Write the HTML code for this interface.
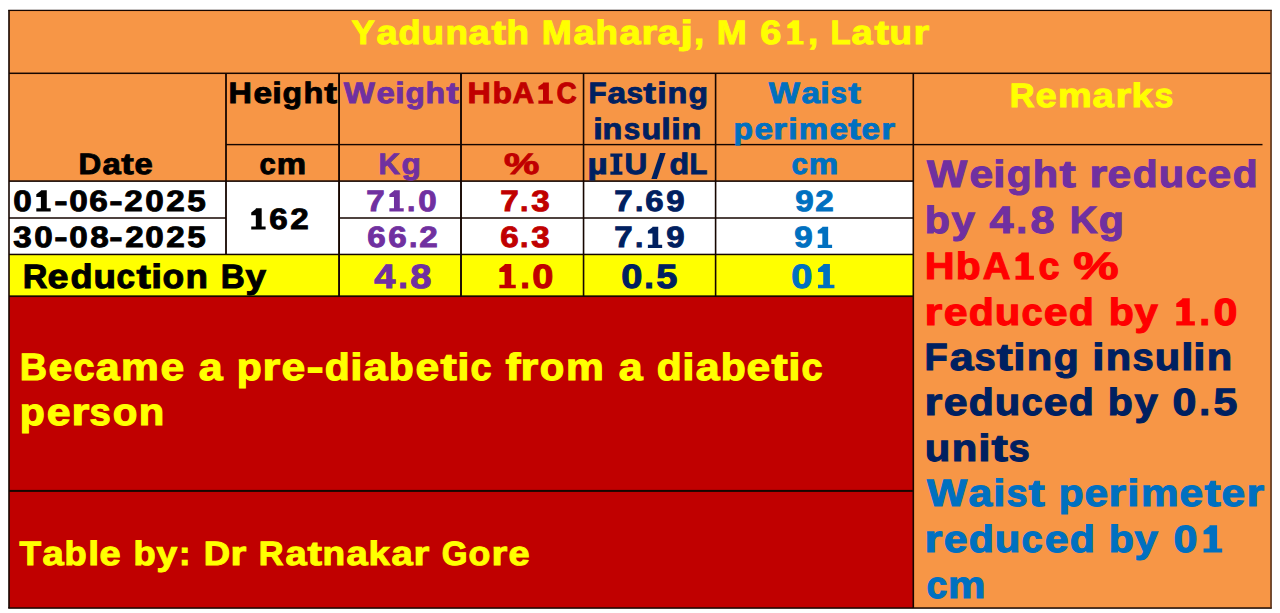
<!DOCTYPE html>
<html><head><meta charset="utf-8"><title>Table</title>
<style>
html,body{margin:0;padding:0;background:#fff;}
body{width:1280px;height:613px;position:relative;overflow:hidden;font-family:"Liberation Sans",sans-serif;font-weight:bold;}
.t{position:absolute;white-space:pre;line-height:1;text-rendering:geometricPrecision;}
.t b{display:inline-block;transform-origin:0 0;font-weight:bold;}
.t b.x{color:transparent;-webkit-text-stroke-color:transparent;}
</style></head><body>
<svg width="1280" height="613" viewBox="0 0 1280 613" style="position:absolute;left:0;top:0">
<rect x="9.00" y="10.40" width="1262.05" height="597.65" fill="#F79646"/>
<rect x="9.00" y="181.10" width="904.30" height="73.35" fill="#FFFFFF"/>
<rect x="9.00" y="254.45" width="904.30" height="41.75" fill="#FFFF00"/>
<rect x="9.00" y="296.20" width="904.30" height="311.85" fill="#C00000"/>
<rect x="9.00" y="72.55" width="1262.05" height="1.50" fill="#160600"/>
<rect x="226.00" y="143.90" width="1036.50" height="1.40" fill="#160600"/>
<rect x="9.00" y="180.30" width="904.30" height="1.60" fill="#160600"/>
<rect x="9.00" y="217.25" width="217.00" height="1.50" fill="#160600"/>
<rect x="339.05" y="217.25" width="574.25" height="1.50" fill="#160600"/>
<rect x="9.00" y="253.70" width="904.30" height="1.50" fill="#160600"/>
<rect x="9.00" y="295.35" width="904.30" height="1.70" fill="#160600"/>
<rect x="9.00" y="489.90" width="904.30" height="2.00" fill="#160600"/>
<rect x="225.10" y="73.30" width="1.80" height="181.15" fill="#160600"/>
<rect x="338.10" y="73.30" width="1.90" height="222.90" fill="#160600"/>
<rect x="460.05" y="73.30" width="1.90" height="222.90" fill="#160600"/>
<rect x="582.75" y="73.30" width="1.60" height="222.90" fill="#160600"/>
<rect x="714.80" y="73.30" width="1.60" height="222.90" fill="#160600"/>
<rect x="912.50" y="73.30" width="1.60" height="534.75" fill="#160600"/>
<rect x="8.20" y="9.75" width="1263.65" height="1.30" fill="#160600"/>
<rect x="8.20" y="607.30" width="1263.65" height="1.50" fill="#160600"/>
<rect x="8.20" y="10.40" width="1.60" height="597.65" fill="#160600"/>
<rect x="1270.25" y="10.40" width="1.60" height="597.65" fill="#5a3018"/>
<polygon points="787.27,44.60 803.67,44.60 803.67,40.99 799.17,40.99 799.17,20.32 792.51,20.32 792.51,21.12 787.27,25.06 787.27,28.23 792.51,28.23 792.51,40.99 787.27,40.99" fill="#FFFF00"/>
<polygon points="538.40,103.70 552.82,103.70 552.82,100.55 548.87,100.55 548.87,82.47 543.00,82.47 543.00,83.17 538.40,86.62 538.40,89.39 543.00,89.39 543.00,100.55 538.40,100.55" fill="#C00000"/>
<polygon points="610.35,174.80 622.44,174.80 622.44,171.53 619.20,171.53 619.20,156.84 622.44,156.84 622.44,153.57 610.35,153.57 610.35,156.84 613.60,156.84 613.60,171.53 610.35,171.53" fill="#002060"/>
<polygon points="651.35,179.09 656.95,179.09 665.65,153.10 660.05,153.10" fill="#002060"/>
<polygon points="36.31,211.40 50.72,211.40 50.72,208.25 46.76,208.25 46.76,190.17 40.90,190.17 40.90,190.87 36.31,194.32 36.31,197.09 40.90,197.09 40.90,208.25 36.31,208.25" fill="#000000"/>
<polygon points="251.24,229.60 265.61,229.60 265.61,226.45 261.67,226.45 261.67,208.37 255.83,208.37 255.83,209.07 251.24,212.52 251.24,215.29 255.83,215.29 255.83,226.45 251.24,226.45" fill="#000000"/>
<polygon points="389.40,211.40 403.72,211.40 403.72,208.25 399.79,208.25 399.79,190.17 393.97,190.17 393.97,190.87 389.40,194.32 389.40,197.09 393.97,197.09 393.97,208.25 389.40,208.25" fill="#7030A0"/>
<polygon points="647.89,247.90 662.17,247.90 662.17,244.75 658.25,244.75 658.25,226.67 652.45,226.67 652.45,227.37 647.89,230.82 647.89,233.59 652.45,233.59 652.45,244.75 647.89,244.75" fill="#002060"/>
<polygon points="817.73,247.90 832.10,247.90 832.10,244.75 828.16,244.75 828.16,226.67 822.32,226.67 822.32,227.37 817.73,230.82 817.73,233.59 822.32,233.59 822.32,244.75 817.73,244.75" fill="#0070C0"/>
<polygon points="499.34,288.30 515.78,288.30 515.78,284.69 511.27,284.69 511.27,264.02 504.59,264.02 504.59,264.82 499.34,268.76 499.34,271.93 504.59,271.93 504.59,284.69 499.34,284.69" fill="#C00000"/>
<polygon points="818.00,288.30 834.43,288.30 834.43,284.69 829.92,284.69 829.92,264.02 823.24,264.02 823.24,264.82 818.00,268.76 818.00,271.93 823.24,271.93 823.24,284.69 818.00,284.69" fill="#0070C0"/>
<polygon points="1015.47,279.70 1033.94,279.70 1033.94,275.65 1028.87,275.65 1028.87,252.44 1021.36,252.44 1021.36,253.34 1015.47,257.76 1015.47,261.32 1021.36,261.32 1021.36,275.65 1015.47,275.65" fill="#FF0000"/>
<polygon points="1176.27,325.40 1194.85,325.40 1194.85,321.35 1189.75,321.35 1189.75,298.14 1182.20,298.14 1182.20,299.04 1176.27,303.46 1176.27,307.02 1182.20,307.02 1182.20,321.35 1176.27,321.35" fill="#FF0000"/>
<polygon points="1203.59,552.60 1222.20,552.60 1222.20,548.55 1217.09,548.55 1217.09,525.34 1209.53,525.34 1209.53,526.24 1203.59,530.66 1203.59,534.23 1209.53,534.23 1209.53,548.55 1203.59,548.55" fill="#0070C0"/>
</svg>
<div class="t" style="left:350.96px;top:17px;font-size:33.84px;color:#FFFF00;-webkit-text-stroke:1.0px #FFFF00"><b style="width:24.55px;transform:translateX(0.61px) scaleX(1.033)">Y</b><b style="width:22.25px;transform:translateX(0.56px) scaleX(1.123)">a</b><b style="width:23.29px;transform:translateX(0.58px) scaleX(1.070)">d</b><b style="width:23.72px;transform:translateX(0.59px) scaleX(1.090)">u</b><b style="width:23.72px;transform:translateX(0.59px) scaleX(1.090)">n</b><b style="width:22.25px;transform:translateX(0.56px) scaleX(1.123)">a</b><b style="width:15.19px;transform:translateX(0.38px) scaleX(1.281)">t</b><b style="width:23.72px;transform:translateX(0.59px) scaleX(1.090)">h</b><b style="width:11.39px"> </b><b style="width:31.58px;transform:translateX(0.79px) scaleX(1.064)">M</b><b style="width:22.25px;transform:translateX(0.56px) scaleX(1.123)">a</b><b style="width:23.72px;transform:translateX(0.59px) scaleX(1.090)">h</b><b style="width:22.25px;transform:translateX(0.56px) scaleX(1.123)">a</b><b style="width:16.56px;transform:translateX(0.41px) scaleX(1.194)">r</b><b style="width:22.25px;transform:translateX(0.56px) scaleX(1.123)">a</b><b style="width:13.43px;transform:translateX(0.34px) scaleX(1.357)">j</b><b style="width:12.03px;transform:translateX(0.90px) scaleX(1.087)">,</b><b style="width:11.39px"> </b><b style="width:31.58px;transform:translateX(0.79px) scaleX(1.064)">M</b><b style="width:11.39px"> </b><b style="width:23.69px;transform:translateX(1.30px) scaleX(1.120)">6</b><b class="x" style="width:23.69px">1</b><b style="width:12.03px;transform:translateX(0.90px) scaleX(1.087)">,</b><b style="width:11.39px"> </b><b style="width:21.22px;transform:translateX(0.53px) scaleX(0.975)">L</b><b style="width:22.25px;transform:translateX(0.56px) scaleX(1.123)">a</b><b style="width:15.19px;transform:translateX(0.38px) scaleX(1.281)">t</b><b style="width:23.72px;transform:translateX(0.59px) scaleX(1.090)">u</b><b style="width:16.56px;transform:translateX(0.41px) scaleX(1.194)">r</b></div>
<div class="t" style="left:228.35px;top:79px;font-size:29.55px;color:#000000;-webkit-text-stroke:0.9px #000000"><b style="width:24.60px;transform:translateX(0.61px) scaleX(1.095)">H</b><b style="width:19.51px;transform:translateX(0.49px) scaleX(1.128)">e</b><b style="width:10.05px;transform:translateX(0.25px) scaleX(1.163)">i</b><b style="width:20.54px;transform:translateX(0.51px) scaleX(1.081)">g</b><b style="width:20.92px;transform:translateX(0.52px) scaleX(1.101)">h</b><b style="width:13.40px;transform:translateX(0.34px) scaleX(1.294)">t</b></div>
<div class="t" style="left:342.96px;top:79px;font-size:29.55px;color:#7030A0;-webkit-text-stroke:0.9px #7030A0"><b style="width:32.68px;transform:translateX(0.82px) scaleX(1.113)">W</b><b style="width:19.24px;transform:translateX(0.48px) scaleX(1.112)">e</b><b style="width:9.91px;transform:translateX(0.25px) scaleX(1.146)">i</b><b style="width:20.25px;transform:translateX(0.51px) scaleX(1.066)">g</b><b style="width:20.63px;transform:translateX(0.52px) scaleX(1.086)">h</b><b style="width:13.21px;transform:translateX(0.33px) scaleX(1.275)">t</b></div>
<div class="t" style="left:467.01px;top:79px;font-size:29.55px;color:#C00000;-webkit-text-stroke:0.9px #C00000"><b style="width:24.54px;transform:translateX(0.61px) scaleX(1.092)">H</b><b style="width:20.49px;transform:translateX(0.51px) scaleX(1.079)">b</b><b style="width:22.75px;transform:translateX(0.57px) scaleX(1.013)">A</b><b class="x" style="width:20.85px">1</b><b style="width:21.23px;transform:translateX(0.53px) scaleX(0.945)">C</b></div>
<div class="t" style="left:587.52px;top:79px;font-size:29.55px;color:#002060;-webkit-text-stroke:0.9px #002060"><b style="width:19.04px;transform:translateX(0.48px) scaleX(1.002)">F</b><b style="width:19.56px;transform:translateX(0.49px) scaleX(1.131)">a</b><b style="width:17.37px;transform:translateX(0.43px) scaleX(1.004)">s</b><b style="width:13.36px;transform:translateX(0.33px) scaleX(1.289)">t</b><b style="width:10.02px;transform:translateX(0.25px) scaleX(1.159)">i</b><b style="width:20.85px;transform:translateX(0.52px) scaleX(1.098)">n</b><b style="width:20.47px;transform:translateX(0.51px) scaleX(1.077)">g</b></div>
<div class="t" style="left:592.51px;top:115px;font-size:29.55px;color:#002060;-webkit-text-stroke:0.9px #002060"><b style="width:9.98px;transform:translateX(0.25px) scaleX(1.155)">i</b><b style="width:20.78px;transform:translateX(0.52px) scaleX(1.094)">n</b><b style="width:17.31px;transform:translateX(0.43px) scaleX(1.000)">s</b><b style="width:20.78px;transform:translateX(0.52px) scaleX(1.094)">u</b><b style="width:9.98px;transform:translateX(0.25px) scaleX(1.155)">l</b><b style="width:9.98px;transform:translateX(0.25px) scaleX(1.155)">i</b><b style="width:20.78px;transform:translateX(0.52px) scaleX(1.094)">n</b></div>
<div class="t" style="left:768.26px;top:79px;font-size:29.55px;color:#0070C0;-webkit-text-stroke:0.9px #0070C0"><b style="width:32.78px;transform:translateX(0.82px) scaleX(1.117)">W</b><b style="width:19.41px;transform:translateX(0.49px) scaleX(1.122)">a</b><b style="width:9.94px;transform:translateX(0.25px) scaleX(1.150)">i</b><b style="width:17.23px;transform:translateX(0.43px) scaleX(0.996)">s</b><b style="width:13.25px;transform:translateX(0.33px) scaleX(1.279)">t</b></div>
<div class="t" style="left:733.44px;top:115px;font-size:29.55px;color:#0070C0;-webkit-text-stroke:0.9px #0070C0"><b style="width:20.44px;transform:translateX(0.51px) scaleX(1.076)">p</b><b style="width:19.41px;transform:translateX(0.49px) scaleX(1.122)">e</b><b style="width:14.53px;transform:translateX(0.36px) scaleX(1.200)">r</b><b style="width:10.00px;transform:translateX(0.25px) scaleX(1.157)">i</b><b style="width:30.93px;transform:translateX(0.77px) scaleX(1.118)">m</b><b style="width:19.41px;transform:translateX(0.49px) scaleX(1.122)">e</b><b style="width:13.33px;transform:translateX(0.33px) scaleX(1.287)">t</b><b style="width:19.41px;transform:translateX(0.49px) scaleX(1.122)">e</b><b style="width:14.53px;transform:translateX(0.36px) scaleX(1.200)">r</b></div>
<div class="t" style="left:1008.57px;top:80px;font-size:33.84px;color:#FFFF00;-webkit-text-stroke:1.0px #FFFF00"><b style="width:26.20px;transform:translateX(0.66px) scaleX(1.019)">R</b><b style="width:22.25px;transform:translateX(0.56px) scaleX(1.123)">e</b><b style="width:35.45px;transform:translateX(0.89px) scaleX(1.119)">m</b><b style="width:22.38px;transform:translateX(0.56px) scaleX(1.130)">a</b><b style="width:16.65px;transform:translateX(0.42px) scaleX(1.201)">r</b><b style="width:22.48px;transform:translateX(0.56px) scaleX(1.135)">k</b><b style="width:19.87px;transform:translateX(0.50px) scaleX(1.003)">s</b></div>
<div class="t" style="left:78.17px;top:150px;font-size:29.55px;color:#000000;-webkit-text-stroke:0.9px #000000"><b style="width:23.93px;transform:translateX(0.60px) scaleX(1.065)">D</b><b style="width:19.26px;transform:translateX(0.48px) scaleX(1.113)">a</b><b style="width:13.15px;transform:translateX(0.33px) scaleX(1.269)">t</b><b style="width:19.14px;transform:translateX(0.48px) scaleX(1.107)">e</b></div>
<div class="t" style="left:258.65px;top:150px;font-size:29.55px;color:#000000;-webkit-text-stroke:0.9px #000000"><b style="width:17.14px;transform:translateX(0.43px) scaleX(0.991)">c</b><b style="width:30.85px;transform:translateX(0.77px) scaleX(1.115)">m</b></div>
<div class="t" style="left:378.44px;top:150px;font-size:29.55px;color:#7030A0;-webkit-text-stroke:0.9px #7030A0"><b style="width:22.41px;transform:translateX(0.56px) scaleX(0.998)">K</b><b style="width:20.32px;transform:translateX(0.51px) scaleX(1.069)">g</b></div>
<div class="t" style="left:503.49px;top:150px;font-size:29.55px;color:#C00000;-webkit-text-stroke:0.9px #C00000"><b style="width:37.14px;transform:translateX(0.93px) scaleX(1.343)">%</b></div>
<div class="t" style="left:587.11px;top:150px;font-size:29.55px;color:#002060;-webkit-text-stroke:0.9px #002060"><b style="width:21.23px;transform:translateX(0.53px) scaleX(1.185)">µ</b><b class="x" style="width:16.10px">I</b><b style="width:23.95px;transform:translateX(0.60px) scaleX(1.066)">U</b><b class="x" style="width:20.32px">/</b><b style="width:20.61px;transform:translateX(0.52px) scaleX(1.085)">d</b><b style="width:18.79px;transform:translateX(0.47px) scaleX(0.989)">L</b></div>
<div class="t" style="left:790.74px;top:150px;font-size:29.55px;color:#0070C0;-webkit-text-stroke:0.9px #0070C0"><b style="width:17.22px;transform:translateX(0.43px) scaleX(0.995)">c</b><b style="width:30.98px;transform:translateX(0.77px) scaleX(1.120)">m</b></div>
<div class="t" style="left:11.87px;top:187px;font-size:29.55px;color:#000000;-webkit-text-stroke:0.9px #000000"><b style="width:20.83px;transform:translateX(1.15px) scaleX(1.128)">0</b><b class="x" style="width:20.83px">1</b><b style="width:14.06px;transform:translateX(0.35px) scaleX(1.358)">-</b><b style="width:20.83px;transform:translateX(1.15px) scaleX(1.128)">0</b><b style="width:20.83px;transform:translateX(1.15px) scaleX(1.128)">6</b><b style="width:14.06px;transform:translateX(0.35px) scaleX(1.358)">-</b><b style="width:20.83px;transform:translateX(1.15px) scaleX(1.128)">2</b><b style="width:20.83px;transform:translateX(1.15px) scaleX(1.128)">0</b><b style="width:20.83px;transform:translateX(1.15px) scaleX(1.128)">2</b><b style="width:20.83px;transform:translateX(1.15px) scaleX(1.128)">5</b></div>
<div class="t" style="left:247.65px;top:205px;font-size:29.55px;color:#000000;-webkit-text-stroke:0.9px #000000"><b class="x" style="width:20.76px">1</b><b style="width:20.76px;transform:translateX(1.14px) scaleX(1.124)">6</b><b style="width:20.76px;transform:translateX(1.14px) scaleX(1.124)">2</b></div>
<div class="t" style="left:365.12px;top:187px;font-size:29.55px;color:#7030A0;-webkit-text-stroke:0.9px #7030A0"><b style="width:20.70px;transform:translateX(1.14px) scaleX(1.121)">7</b><b class="x" style="width:20.70px">1</b><b style="width:10.51px;transform:translateX(1.05px) scaleX(1.024)">.</b><b style="width:20.70px;transform:translateX(1.14px) scaleX(1.121)">0</b></div>
<div class="t" style="left:498.72px;top:187px;font-size:29.55px;color:#C00000;-webkit-text-stroke:0.9px #C00000"><b style="width:20.76px;transform:translateX(1.14px) scaleX(1.124)">7</b><b style="width:10.54px;transform:translateX(1.05px) scaleX(1.027)">.</b><b style="width:20.76px;transform:translateX(1.14px) scaleX(1.124)">3</b></div>
<div class="t" style="left:613.23px;top:187px;font-size:29.55px;color:#002060;-webkit-text-stroke:0.9px #002060"><b style="width:20.63px;transform:translateX(1.13px) scaleX(1.117)">7</b><b style="width:10.47px;transform:translateX(1.05px) scaleX(1.020)">.</b><b style="width:20.63px;transform:translateX(1.13px) scaleX(1.117)">6</b><b style="width:20.63px;transform:translateX(1.13px) scaleX(1.117)">9</b></div>
<div class="t" style="left:793.59px;top:187px;font-size:29.55px;color:#0070C0;-webkit-text-stroke:0.9px #0070C0"><b style="width:20.76px;transform:translateX(1.14px) scaleX(1.124)">9</b><b style="width:20.76px;transform:translateX(1.14px) scaleX(1.124)">2</b></div>
<div class="t" style="left:12.41px;top:223px;font-size:29.55px;color:#000000;-webkit-text-stroke:0.9px #000000"><b style="width:20.77px;transform:translateX(1.14px) scaleX(1.125)">3</b><b style="width:20.77px;transform:translateX(1.14px) scaleX(1.125)">0</b><b style="width:14.02px;transform:translateX(0.35px) scaleX(1.354)">-</b><b style="width:20.77px;transform:translateX(1.14px) scaleX(1.125)">0</b><b style="width:20.77px;transform:translateX(1.14px) scaleX(1.125)">8</b><b style="width:14.02px;transform:translateX(0.35px) scaleX(1.354)">-</b><b style="width:20.77px;transform:translateX(1.14px) scaleX(1.125)">2</b><b style="width:20.77px;transform:translateX(1.14px) scaleX(1.125)">0</b><b style="width:20.77px;transform:translateX(1.14px) scaleX(1.125)">2</b><b style="width:20.77px;transform:translateX(1.14px) scaleX(1.125)">5</b></div>
<div class="t" style="left:366.21px;top:223px;font-size:29.55px;color:#7030A0;-webkit-text-stroke:0.9px #7030A0"><b style="width:20.76px;transform:translateX(1.14px) scaleX(1.124)">6</b><b style="width:20.76px;transform:translateX(1.14px) scaleX(1.124)">6</b><b style="width:10.54px;transform:translateX(1.05px) scaleX(1.027)">.</b><b style="width:20.76px;transform:translateX(1.14px) scaleX(1.124)">2</b></div>
<div class="t" style="left:498.57px;top:223px;font-size:29.55px;color:#C00000;-webkit-text-stroke:0.9px #C00000"><b style="width:20.76px;transform:translateX(1.14px) scaleX(1.124)">6</b><b style="width:10.54px;transform:translateX(1.05px) scaleX(1.027)">.</b><b style="width:20.76px;transform:translateX(1.14px) scaleX(1.124)">3</b></div>
<div class="t" style="left:613.23px;top:223px;font-size:29.55px;color:#002060;-webkit-text-stroke:0.9px #002060"><b style="width:20.63px;transform:translateX(1.13px) scaleX(1.117)">7</b><b style="width:10.47px;transform:translateX(1.05px) scaleX(1.020)">.</b><b class="x" style="width:20.63px">1</b><b style="width:20.63px;transform:translateX(1.13px) scaleX(1.117)">9</b></div>
<div class="t" style="left:793.38px;top:223px;font-size:29.55px;color:#0070C0;-webkit-text-stroke:0.9px #0070C0"><b style="width:20.76px;transform:translateX(1.14px) scaleX(1.124)">9</b><b class="x" style="width:20.76px">1</b></div>
<div class="t" style="left:21.54px;top:261px;font-size:33.84px;color:#000000;-webkit-text-stroke:1.0px #000000"><b style="width:25.96px;transform:translateX(0.65px) scaleX(1.009)">R</b><b style="width:22.04px;transform:translateX(0.55px) scaleX(1.113)">e</b><b style="width:23.20px;transform:translateX(0.58px) scaleX(1.066)">d</b><b style="width:23.63px;transform:translateX(0.59px) scaleX(1.086)">u</b><b style="width:19.52px;transform:translateX(0.49px) scaleX(0.985)">c</b><b style="width:15.14px;transform:translateX(0.38px) scaleX(1.276)">t</b><b style="width:11.35px;transform:translateX(0.28px) scaleX(1.147)">i</b><b style="width:22.80px;transform:translateX(0.57px) scaleX(1.048)">o</b><b style="width:23.63px;transform:translateX(0.59px) scaleX(1.086)">n</b><b style="width:11.35px"> </b><b style="width:25.29px;transform:translateX(0.63px) scaleX(0.983)">B</b><b style="width:21.61px;transform:translateX(0.54px) scaleX(1.091)">y</b></div>
<div class="t" style="left:373.19px;top:261px;font-size:33.84px;color:#7030A0;-webkit-text-stroke:1.0px #7030A0"><b style="width:23.75px;transform:translateX(1.31px) scaleX(1.123)">4</b><b style="width:12.06px;transform:translateX(1.21px) scaleX(1.026)">.</b><b style="width:23.75px;transform:translateX(1.31px) scaleX(1.123)">8</b></div>
<div class="t" style="left:495.24px;top:261px;font-size:33.84px;color:#C00000;-webkit-text-stroke:1.0px #C00000"><b class="x" style="width:23.75px">1</b><b style="width:12.06px;transform:translateX(1.21px) scaleX(1.026)">.</b><b style="width:23.75px;transform:translateX(1.31px) scaleX(1.123)">0</b></div>
<div class="t" style="left:619.50px;top:261px;font-size:33.84px;color:#002060;-webkit-text-stroke:1.0px #002060"><b style="width:23.75px;transform:translateX(1.31px) scaleX(1.123)">0</b><b style="width:12.06px;transform:translateX(1.21px) scaleX(1.026)">.</b><b style="width:23.75px;transform:translateX(1.31px) scaleX(1.123)">5</b></div>
<div class="t" style="left:790.14px;top:261px;font-size:33.84px;color:#0070C0;-webkit-text-stroke:1.0px #0070C0"><b style="width:23.75px;transform:translateX(1.31px) scaleX(1.123)">0</b><b class="x" style="width:23.75px">1</b></div>
<div class="t" style="left:19.35px;top:349px;font-size:38.03px;color:#FFFF00;-webkit-text-stroke:1.1px #FFFF00"><b style="width:28.68px;transform:translateX(0.72px) scaleX(0.992)">B</b><b style="width:24.99px;transform:translateX(0.62px) scaleX(1.122)">e</b><b style="width:22.13px;transform:translateX(0.55px) scaleX(0.994)">c</b><b style="width:25.14px;transform:translateX(0.63px) scaleX(1.129)">a</b><b style="width:39.82px;transform:translateX(1.00px) scaleX(1.119)">m</b><b style="width:24.99px;transform:translateX(0.62px) scaleX(1.122)">e</b><b style="width:12.87px"> </b><b style="width:25.14px;transform:translateX(0.63px) scaleX(1.129)">a</b><b style="width:12.87px"> </b><b style="width:26.31px;transform:translateX(0.66px) scaleX(1.076)">p</b><b style="width:18.71px;transform:translateX(0.47px) scaleX(1.201)">r</b><b style="width:24.99px;transform:translateX(0.62px) scaleX(1.122)">e</b><b style="width:18.07px;transform:translateX(0.45px) scaleX(1.355)">-</b><b style="width:26.31px;transform:translateX(0.66px) scaleX(1.076)">d</b><b style="width:12.87px;transform:translateX(0.32px) scaleX(1.157)">i</b><b style="width:25.14px;transform:translateX(0.63px) scaleX(1.129)">a</b><b style="width:26.31px;transform:translateX(0.66px) scaleX(1.076)">b</b><b style="width:24.99px;transform:translateX(0.62px) scaleX(1.122)">e</b><b style="width:17.16px;transform:translateX(0.43px) scaleX(1.287)">t</b><b style="width:12.87px;transform:translateX(0.32px) scaleX(1.157)">i</b><b style="width:22.13px;transform:translateX(0.55px) scaleX(0.994)">c</b><b style="width:12.87px"> </b><b style="width:15.88px;transform:translateX(0.40px) scaleX(1.191)">f</b><b style="width:18.71px;transform:translateX(0.47px) scaleX(1.201)">r</b><b style="width:25.86px;transform:translateX(0.65px) scaleX(1.057)">o</b><b style="width:39.82px;transform:translateX(1.00px) scaleX(1.119)">m</b><b style="width:12.87px"> </b><b style="width:25.14px;transform:translateX(0.63px) scaleX(1.129)">a</b><b style="width:12.87px"> </b><b style="width:26.31px;transform:translateX(0.66px) scaleX(1.076)">d</b><b style="width:12.87px;transform:translateX(0.32px) scaleX(1.157)">i</b><b style="width:25.14px;transform:translateX(0.63px) scaleX(1.129)">a</b><b style="width:26.31px;transform:translateX(0.66px) scaleX(1.076)">b</b><b style="width:24.99px;transform:translateX(0.62px) scaleX(1.122)">e</b><b style="width:17.16px;transform:translateX(0.43px) scaleX(1.287)">t</b><b style="width:12.87px;transform:translateX(0.32px) scaleX(1.157)">i</b><b style="width:22.13px;transform:translateX(0.55px) scaleX(0.994)">c</b></div>
<div class="t" style="left:19.18px;top:394px;font-size:38.03px;color:#FFFF00;-webkit-text-stroke:1.1px #FFFF00"><b style="width:26.41px;transform:translateX(0.66px) scaleX(1.080)">p</b><b style="width:25.09px;transform:translateX(0.63px) scaleX(1.127)">e</b><b style="width:18.78px;transform:translateX(0.47px) scaleX(1.206)">r</b><b style="width:22.41px;transform:translateX(0.56px) scaleX(1.007)">s</b><b style="width:25.96px;transform:translateX(0.65px) scaleX(1.062)">o</b><b style="width:26.91px;transform:translateX(0.67px) scaleX(1.100)">n</b></div>
<div class="t" style="left:19.10px;top:538px;font-size:33.84px;color:#FFFF00;-webkit-text-stroke:1.0px #FFFF00"><b style="width:22.81px;transform:translateX(0.57px) scaleX(1.048)">T</b><b style="width:22.34px;transform:translateX(0.56px) scaleX(1.128)">a</b><b style="width:23.37px;transform:translateX(0.58px) scaleX(1.074)">b</b><b style="width:11.44px;transform:translateX(0.29px) scaleX(1.155)">l</b><b style="width:22.20px;transform:translateX(0.56px) scaleX(1.121)">e</b><b style="width:11.44px"> </b><b style="width:23.37px;transform:translateX(0.58px) scaleX(1.074)">b</b><b style="width:21.77px;transform:translateX(0.54px) scaleX(1.099)">y</b><b style="width:13.44px;transform:translateX(1.01px) scaleX(1.014)">:</b><b style="width:11.44px"> </b><b style="width:27.75px;transform:translateX(0.69px) scaleX(1.079)">D</b><b style="width:16.62px;transform:translateX(0.42px) scaleX(1.199)">r</b><b style="width:11.44px"> </b><b style="width:26.15px;transform:translateX(0.65px) scaleX(1.017)">R</b><b style="width:22.34px;transform:translateX(0.56px) scaleX(1.128)">a</b><b style="width:15.25px;transform:translateX(0.38px) scaleX(1.285)">t</b><b style="width:23.81px;transform:translateX(0.60px) scaleX(1.094)">n</b><b style="width:22.34px;transform:translateX(0.56px) scaleX(1.128)">a</b><b style="width:22.44px;transform:translateX(0.56px) scaleX(1.133)">k</b><b style="width:22.34px;transform:translateX(0.56px) scaleX(1.128)">a</b><b style="width:16.62px;transform:translateX(0.42px) scaleX(1.199)">r</b><b style="width:11.44px"> </b><b style="width:27.12px;transform:translateX(0.68px) scaleX(0.979)">G</b><b style="width:22.97px;transform:translateX(0.57px) scaleX(1.056)">o</b><b style="width:16.62px;transform:translateX(0.42px) scaleX(1.199)">r</b><b style="width:22.20px;transform:translateX(0.56px) scaleX(1.121)">e</b></div>
<div class="t" style="left:926.41px;top:156px;font-size:38.03px;color:#7030A0;-webkit-text-stroke:1.1px #7030A0"><b style="width:42.19px;transform:translateX(1.05px) scaleX(1.117)">W</b><b style="width:24.84px;transform:translateX(0.62px) scaleX(1.116)">e</b><b style="width:12.79px;transform:translateX(0.32px) scaleX(1.150)">i</b><b style="width:26.14px;transform:translateX(0.65px) scaleX(1.069)">g</b><b style="width:26.63px;transform:translateX(0.67px) scaleX(1.089)">h</b><b style="width:17.06px;transform:translateX(0.43px) scaleX(1.279)">t</b><b style="width:12.79px"> </b><b style="width:18.59px;transform:translateX(0.46px) scaleX(1.193)">r</b><b style="width:24.84px;transform:translateX(0.62px) scaleX(1.116)">e</b><b style="width:26.14px;transform:translateX(0.65px) scaleX(1.069)">d</b><b style="width:26.63px;transform:translateX(0.67px) scaleX(1.089)">u</b><b style="width:21.99px;transform:translateX(0.55px) scaleX(0.988)">c</b><b style="width:24.84px;transform:translateX(0.62px) scaleX(1.116)">e</b><b style="width:26.14px;transform:translateX(0.65px) scaleX(1.069)">d</b></div>
<div class="t" style="left:924.18px;top:202px;font-size:38.03px;color:#7030A0;-webkit-text-stroke:1.1px #7030A0"><b style="width:26.45px;transform:translateX(0.66px) scaleX(1.082)">b</b><b style="width:24.64px;transform:translateX(0.62px) scaleX(1.107)">y</b><b style="width:12.94px"> </b><b style="width:26.91px;transform:translateX(1.48px) scaleX(1.132)">4</b><b style="width:13.66px;transform:translateX(1.37px) scaleX(1.034)">.</b><b style="width:26.91px;transform:translateX(1.48px) scaleX(1.132)">8</b><b style="width:12.94px"> </b><b style="width:29.18px;transform:translateX(0.73px) scaleX(1.009)">K</b><b style="width:26.45px;transform:translateX(0.66px) scaleX(1.082)">g</b></div>
<div class="t" style="left:924.04px;top:248px;font-size:38.03px;color:#FF0000;-webkit-text-stroke:1.1px #FF0000"><b style="width:31.43px;transform:translateX(0.79px) scaleX(1.087)">H</b><b style="width:26.25px;transform:translateX(0.66px) scaleX(1.073)">b</b><b style="width:29.14px;transform:translateX(0.73px) scaleX(1.008)">A</b><b class="x" style="width:26.70px">1</b><b style="width:22.08px;transform:translateX(0.55px) scaleX(0.992)">c</b><b style="width:12.84px"> </b><b style="width:47.76px;transform:translateX(1.19px) scaleX(1.342)">%</b></div>
<div class="t" style="left:924.06px;top:294px;font-size:38.03px;color:#FF0000;-webkit-text-stroke:1.1px #FF0000"><b style="width:18.76px;transform:translateX(0.47px) scaleX(1.205)">r</b><b style="width:25.07px;transform:translateX(0.63px) scaleX(1.126)">e</b><b style="width:26.39px;transform:translateX(0.66px) scaleX(1.079)">d</b><b style="width:26.88px;transform:translateX(0.67px) scaleX(1.099)">u</b><b style="width:22.20px;transform:translateX(0.56px) scaleX(0.997)">c</b><b style="width:25.07px;transform:translateX(0.63px) scaleX(1.126)">e</b><b style="width:26.39px;transform:translateX(0.66px) scaleX(1.079)">d</b><b style="width:12.91px"> </b><b style="width:26.39px;transform:translateX(0.66px) scaleX(1.079)">b</b><b style="width:24.58px;transform:translateX(0.61px) scaleX(1.104)">y</b><b style="width:12.91px"> </b><b class="x" style="width:26.84px">1</b><b style="width:13.63px;transform:translateX(1.36px) scaleX(1.032)">.</b><b style="width:26.84px;transform:translateX(1.48px) scaleX(1.130)">0</b></div>
<div class="t" style="left:924.43px;top:339px;font-size:38.03px;color:#002060;-webkit-text-stroke:1.1px #002060"><b style="width:24.42px;transform:translateX(0.61px) scaleX(0.999)">F</b><b style="width:25.10px;transform:translateX(0.63px) scaleX(1.127)">a</b><b style="width:22.28px;transform:translateX(0.56px) scaleX(1.001)">s</b><b style="width:17.13px;transform:translateX(0.43px) scaleX(1.285)">t</b><b style="width:12.85px;transform:translateX(0.32px) scaleX(1.155)">i</b><b style="width:26.75px;transform:translateX(0.67px) scaleX(1.094)">n</b><b style="width:26.26px;transform:translateX(0.66px) scaleX(1.074)">g</b><b style="width:12.85px"> </b><b style="width:12.85px;transform:translateX(0.32px) scaleX(1.155)">i</b><b style="width:26.75px;transform:translateX(0.67px) scaleX(1.094)">n</b><b style="width:22.28px;transform:translateX(0.56px) scaleX(1.001)">s</b><b style="width:26.75px;transform:translateX(0.67px) scaleX(1.094)">u</b><b style="width:12.85px;transform:translateX(0.32px) scaleX(1.155)">l</b><b style="width:12.85px;transform:translateX(0.32px) scaleX(1.155)">i</b><b style="width:26.75px;transform:translateX(0.67px) scaleX(1.094)">n</b></div>
<div class="t" style="left:924.07px;top:384px;font-size:38.03px;color:#002060;-webkit-text-stroke:1.1px #002060"><b style="width:18.73px;transform:translateX(0.47px) scaleX(1.203)">r</b><b style="width:25.03px;transform:translateX(0.63px) scaleX(1.124)">e</b><b style="width:26.35px;transform:translateX(0.66px) scaleX(1.077)">d</b><b style="width:26.84px;transform:translateX(0.67px) scaleX(1.098)">u</b><b style="width:22.16px;transform:translateX(0.55px) scaleX(0.996)">c</b><b style="width:25.03px;transform:translateX(0.63px) scaleX(1.124)">e</b><b style="width:26.35px;transform:translateX(0.66px) scaleX(1.077)">d</b><b style="width:12.89px"> </b><b style="width:26.35px;transform:translateX(0.66px) scaleX(1.077)">b</b><b style="width:24.54px;transform:translateX(0.61px) scaleX(1.102)">y</b><b style="width:12.89px"> </b><b style="width:26.80px;transform:translateX(1.47px) scaleX(1.128)">0</b><b style="width:13.61px;transform:translateX(1.36px) scaleX(1.030)">.</b><b style="width:26.80px;transform:translateX(1.47px) scaleX(1.128)">5</b></div>
<div class="t" style="left:924.29px;top:430px;font-size:38.03px;color:#002060;-webkit-text-stroke:1.1px #002060"><b style="width:26.87px;transform:translateX(0.67px) scaleX(1.099)">u</b><b style="width:26.87px;transform:translateX(0.67px) scaleX(1.099)">n</b><b style="width:12.91px;transform:translateX(0.32px) scaleX(1.161)">i</b><b style="width:17.21px;transform:translateX(0.43px) scaleX(1.291)">t</b><b style="width:22.38px;transform:translateX(0.56px) scaleX(1.005)">s</b></div>
<div class="t" style="left:925.71px;top:475px;font-size:38.03px;color:#0070C0;-webkit-text-stroke:1.1px #0070C0"><b style="width:42.16px;transform:translateX(1.05px) scaleX(1.116)">W</b><b style="width:24.97px;transform:translateX(0.62px) scaleX(1.121)">a</b><b style="width:12.78px;transform:translateX(0.32px) scaleX(1.149)">i</b><b style="width:22.16px;transform:translateX(0.55px) scaleX(0.995)">s</b><b style="width:17.04px;transform:translateX(0.43px) scaleX(1.279)">t</b><b style="width:12.78px"> </b><b style="width:26.13px;transform:translateX(0.65px) scaleX(1.068)">p</b><b style="width:24.82px;transform:translateX(0.62px) scaleX(1.115)">e</b><b style="width:18.58px;transform:translateX(0.46px) scaleX(1.192)">r</b><b style="width:12.78px;transform:translateX(0.32px) scaleX(1.149)">i</b><b style="width:39.54px;transform:translateX(0.99px) scaleX(1.111)">m</b><b style="width:24.82px;transform:translateX(0.62px) scaleX(1.115)">e</b><b style="width:17.04px;transform:translateX(0.43px) scaleX(1.279)">t</b><b style="width:24.82px;transform:translateX(0.62px) scaleX(1.115)">e</b><b style="width:18.58px;transform:translateX(0.46px) scaleX(1.192)">r</b></div>
<div class="t" style="left:924.06px;top:521px;font-size:38.03px;color:#0070C0;-webkit-text-stroke:1.1px #0070C0"><b style="width:18.80px;transform:translateX(0.47px) scaleX(1.207)">r</b><b style="width:25.11px;transform:translateX(0.63px) scaleX(1.128)">e</b><b style="width:26.44px;transform:translateX(0.66px) scaleX(1.081)">d</b><b style="width:26.93px;transform:translateX(0.67px) scaleX(1.101)">u</b><b style="width:22.24px;transform:translateX(0.56px) scaleX(0.999)">c</b><b style="width:25.11px;transform:translateX(0.63px) scaleX(1.128)">e</b><b style="width:26.44px;transform:translateX(0.66px) scaleX(1.081)">d</b><b style="width:12.93px"> </b><b style="width:26.44px;transform:translateX(0.66px) scaleX(1.081)">b</b><b style="width:24.62px;transform:translateX(0.62px) scaleX(1.106)">y</b><b style="width:12.93px"> </b><b style="width:26.89px;transform:translateX(1.48px) scaleX(1.132)">0</b><b class="x" style="width:26.89px">1</b></div>
<div class="t" style="left:925.50px;top:567px;font-size:38.03px;color:#0070C0;-webkit-text-stroke:1.1px #0070C0"><b style="width:21.86px;transform:translateX(0.55px) scaleX(0.982)">c</b><b style="width:39.34px;transform:translateX(0.98px) scaleX(1.105)">m</b></div>
</body></html>
